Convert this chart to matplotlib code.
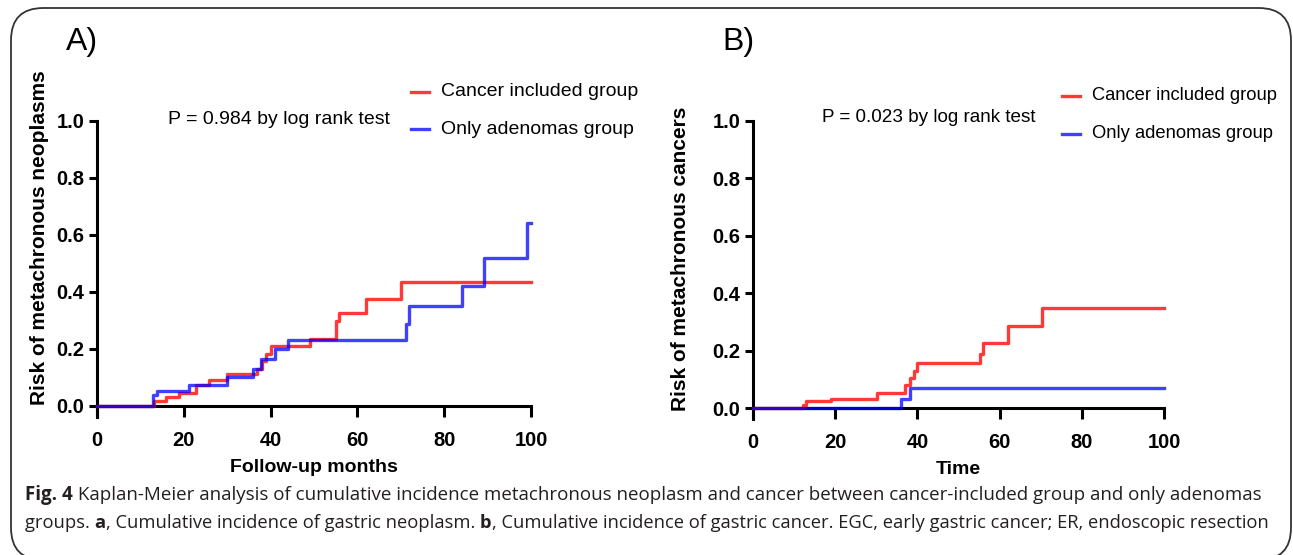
import matplotlib
matplotlib.use("Agg")
import matplotlib.pyplot as plt
from matplotlib.patches import FancyBboxPatch

# ---------------- data ----------------
# Panel A: cumulative risk of metachronous neoplasms
a_cancer_t = [0, 13.1, 15.9, 18.9, 22.9, 25.8, 29.9, 36.8, 38.0, 38.9, 40.0, 49.1, 55.1, 55.8, 62.0, 70.0, 100]
a_cancer_y = [0, 0.017, 0.030, 0.043, 0.073, 0.090, 0.109, 0.129, 0.157, 0.180, 0.208, 0.235, 0.297, 0.326, 0.376, 0.435, 0.435]
a_adeno_t = [0, 13.0, 13.8, 21.2, 30.0, 36.0, 37.9, 41.1, 44.0, 71.2, 72.0, 84.1, 89.1, 99.0, 100]
a_adeno_y = [0, 0.036, 0.051, 0.073, 0.099, 0.129, 0.163, 0.197, 0.230, 0.287, 0.348, 0.421, 0.52, 0.64, 0.64]

# Panel B: cumulative risk of metachronous cancers
b_cancer_t = [0, 12.2, 13.0, 19.0, 30.2, 37.0, 38.1, 39.1, 40.0, 55.2, 56.0, 62.1, 70.2, 100]
b_cancer_y = [0, 0.009, 0.023, 0.033, 0.052, 0.079, 0.103, 0.130, 0.157, 0.189, 0.228, 0.287, 0.350, 0.350]
b_adeno_t = [0, 35.9, 38.1, 100]
b_adeno_y = [0, 0.033, 0.069, 0.069]

x_ticks = [0, 20, 40, 60, 80, 100]
y_ticks = [0.0, 0.2, 0.4, 0.6, 0.8, 1.0]
y_tick_labels = ["0.0", "0.2", "0.4", "0.6", "0.8", "1.0"]

legend_labels = ["Cancer included group", "Only adenomas group"]
p_texts = ["P = 0.984 by log rank test", "P = 0.023 by log rank test"]
panel_titles = ["A)", "B)"]
x_labels = ["Follow-up months", "Time"]
y_labels = ["Risk of metachronous neoplasms", "Risk of metachronous cancers"]

RED = (1.0, 0.0, 0.0, 0.78)
BLUE = (0.0, 0.0, 1.0, 0.75)

W, H = 1293, 555
fig = plt.figure(figsize=(W / 100, H / 100), dpi=100)
plt.rcParams['font.family'] = ['Liberation Sans', 'DejaVu Sans']


def fx(px):
    return px / W


def fy(py):
    return 1 - py / H


# rounded frame
frame = FancyBboxPatch((fx(11), fy(560)), fx(1291) - fx(11), fy(8) - fy(560),
                       boxstyle="round,pad=0,rounding_size=0.025",
                       transform=fig.transFigure, fill=False, ec="#333333", lw=1.3,
                       mutation_aspect=W / H)
fig.patches.append(frame)

YMIN = -0.04
panels = [
    dict(left=97, right=531, y0=405.5, y1=121, cancer=(a_cancer_t, a_cancer_y), adeno=(a_adeno_t, a_adeno_y),
         title_xy=(82, 42), ylabel_x=40, ylabel_y=238, xlabel_y=468,
         p_xy=(168, 120), p_size=14.0, leg_x=411, leg_y=(92, 129), leg_size=14.0),
    dict(left=753, right=1164, y0=408, y1=121, cancer=(b_cancer_t, b_cancer_y), adeno=(b_adeno_t, b_adeno_y),
         title_xy=(738, 42), ylabel_x=680, ylabel_y=259, xlabel_y=470,
         p_xy=(822, 117), p_size=13.6, leg_x=1062, leg_y=(96, 134), leg_size=13.2),
]

for i, p in enumerate(panels):
    scale = p["y0"] - p["y1"]
    bottom_px = p["y0"] - YMIN * scale
    ax = fig.add_axes([fx(p["left"]), fy(bottom_px), (p["right"] - p["left"]) / W, (bottom_px - p["y1"]) / H])
    ax.set_xlim(0, 100)
    ax.set_ylim(YMIN, 1.0)
    ax.patch.set_alpha(0)
    for s in ["top", "right"]:
        ax.spines[s].set_visible(False)
    ax.spines["bottom"].set_position(("data", 0))
    ax.spines["bottom"].set_linewidth(2.2)
    ax.spines["left"].set_linewidth(2.2)
    ax.spines["left"].set_bounds(YMIN, 1.0)
    ax.set_xticks(x_ticks)
    ax.set_yticks(y_ticks)
    ax.set_yticklabels(y_tick_labels)
    ax.tick_params(axis="x", length=8, width=2.2, pad=10, labelsize=14.5)
    ax.tick_params(axis="y", length=6, width=2.2, pad=3, labelsize=14.5)
    for lab in ax.get_xticklabels() + ax.get_yticklabels():
        lab.set_fontweight("bold")

    ct, cy = p["cancer"]
    at, ay = p["adeno"]
    ax.step(ct, cy, where="post", color=RED, lw=2.4, clip_on=False, zorder=3)
    ax.step(at, ay, where="post", color=BLUE, lw=2.4, clip_on=False, zorder=3)

    # panel title
    fig.text(fx(p["title_xy"][0]), fy(p["title_xy"][1]), panel_titles[i], fontsize=23,
             ha="center", va="center")
    # axis labels
    fig.text(fx(p["ylabel_x"]), fy(p["ylabel_y"]), y_labels[i], rotation=90, fontsize=15,
             fontweight="bold", ha="center", va="center")
    fig.text(fx((p["left"] + p["right"]) / 2), fy(p["xlabel_y"]), x_labels[i], fontsize=14,
             fontweight="bold", ha="center", va="center")
    # p-value
    fig.text(fx(p["p_xy"][0]), fy(p["p_xy"][1]), p_texts[i], fontsize=p["p_size"], ha="left", va="center")
    # legend
    for j, (col, lbl) in enumerate(zip([RED, BLUE], legend_labels)):
        yy = p["leg_y"][j]
        fig.add_artist(plt.Line2D([fx(p["leg_x"]), fx(p["leg_x"] + 18)], [fy(yy), fy(yy)],
                                  transform=fig.transFigure, color=col, lw=2.4))
        fig.text(fx(p["leg_x"] + 30), fy(yy), lbl, fontsize=p["leg_size"], ha="left", va="center")

# caption with mixed bold/regular runs
cap_font = ['Open Sans', 'DejaVu Sans']
cap_sizes = [13.5, 13.2]
lines = [
    [("Fig. 4", "bold"), (" Kaplan-Meier analysis of cumulative incidence metachronous neoplasm and cancer between cancer-included group and only adenomas", "normal")],
    [("groups. ", "normal"), ("a", "bold"), (", Cumulative incidence of gastric neoplasm. ", "normal"), ("b", "bold"),
     (", Cumulative incidence of gastric cancer. EGC, early gastric cancer; ER, endoscopic resection", "normal")],
]
line_y = [495, 523]
fig.canvas.draw()
renderer = fig.canvas.get_renderer()
for runs, yy, cs in zip(lines, line_y, cap_sizes):
    xpos = 25.0
    for txt, wt in runs:
        t = fig.text(fx(xpos), fy(yy), txt, fontsize=cs, fontweight=wt, family=cap_font,
                     ha="left", va="center", color="#231f20")
        bb = t.get_window_extent(renderer=renderer)
        xpos += bb.width

fig.savefig("out.png", dpi=100)
